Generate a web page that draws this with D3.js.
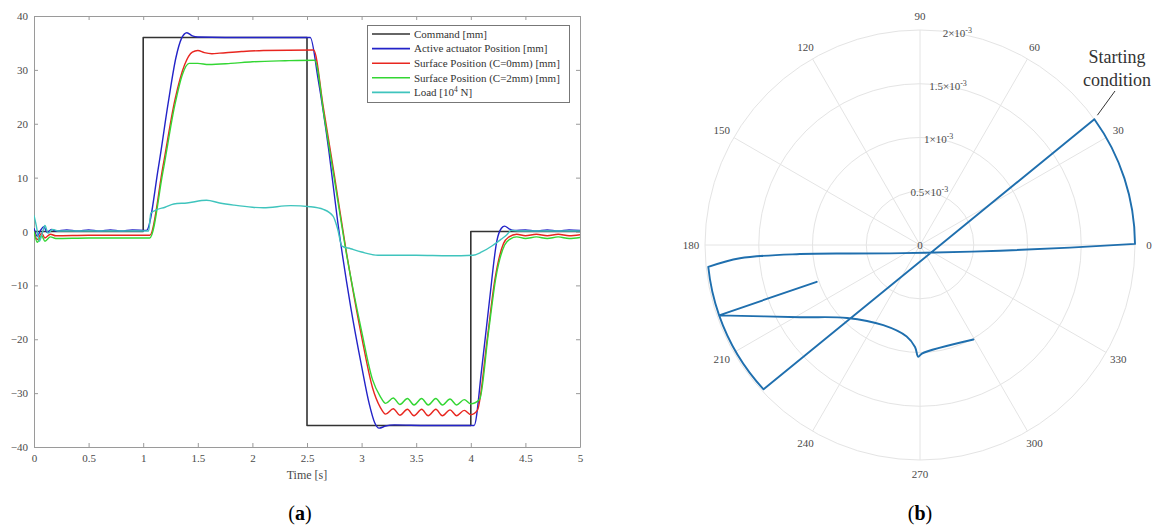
<!DOCTYPE html>
<html>
<head>
<meta charset="utf-8">
<script src="https://cdn.jsdelivr.net/npm/d3@7"></script>
<style>
  body { margin: 0; background: #fff; }
  svg { display: block; }
  .serif { font-family: "Liberation Serif", "DejaVu Serif", serif; }
</style>
</head>
<body>
<svg id="chart" width="1161" height="528"></svg>
<script>
// ---- panel (a): step response, time in s, values as in legend units ----
const timeTicks = [0, 0.5, 1, 1.5, 2, 2.5, 3, 3.5, 4, 4.5, 5];
const valueTicks = [-40, -30, -20, -10, 0, 10, 20, 30, 40];

const seriesNames = [
  "Command [mm]",
  "Active actuator Position [mm]",
  "Surface Position (C=0mm) [mm]",
  "Surface Position (C=2mm) [mm]",
  "Load [10|4| N]"
];
const seriesColors = ["#333333", "#2323c8", "#e8261f", "#33d633", "#3fc4bd"];

const command = [[0, 0], [1, 0], [1, 36], [2.5, 36], [2.5, -36], [4, -36], [4, 0], [5, 0]];

const actuator = [
  [0, 0.6], [0.03, -0.9], [0.06, 0.2], [0.09, 0.9], [0.12, -0.2], [0.16, 0.4], [0.2, 0.1],
  [0.3, 0.3], [0.4, 0.1], [0.5, 0.3], [0.6, 0.1], [0.7, 0.3], [0.8, 0.1], [0.9, 0.3], [1.03, 0.2],
  [1.14, 12], [1.23, 24], [1.3, 32.3], [1.35, 35.8], [1.4, 36.9], [1.45, 36.3], [1.5, 36.1],
  [2.0, 36], [2.53, 36], [2.6, 28.5], [2.7, 15], [2.78, 2], [2.9, -14], [3.0, -25],
  [3.07, -32], [3.12, -35.5], [3.16, -36.5], [3.22, -36.1], [3.3, -35.9], [3.6, -36], [4.03, -36],
  [4.1, -25.5], [4.17, -13], [4.24, -1.6], [4.28, 0.6], [4.31, 1.0], [4.35, 0.5], [4.4, 0.2],
  [4.5, 0.3], [4.6, 0.1], [4.7, 0.3], [4.8, 0.1], [4.9, 0.3], [5, 0.2]
];

const surfaceC0 = [
  [0, 0], [0.03, -1.5], [0.07, -0.3], [0.1, -1.2], [0.15, -0.5], [0.2, -0.8],
  [0.5, -0.7], [1.06, -0.7], [1.18, 12], [1.29, 24.4], [1.38, 31], [1.45, 33.3], [1.5, 33.6],
  [1.56, 33.2], [1.63, 33], [1.7, 33.1], [1.9, 33.4], [2.1, 33.6], [2.56, 33.7],
  [2.65, 23], [2.75, 10.5], [2.85, -2.5], [3.0, -19.5], [3.1, -29], [3.17, -32.6], [3.22, -33.9],
  [3.29, -32.9], [3.35, -34.1], [3.42, -33.0], [3.48, -34.2], [3.55, -33.0], [3.61, -34.2],
  [3.68, -33.0], [3.74, -34.2], [3.81, -33.1], [3.87, -34.2], [3.94, -33.2], [4.0, -34.0], [4.06, -33.2],
  [4.15, -20], [4.22, -9], [4.3, -2.2], [4.35, -1.0], [4.42, -0.5], [4.5, -0.8], [4.6, -0.5],
  [4.7, -0.8], [4.8, -0.5], [4.9, -0.8], [5, -0.6]
];

const surfaceC2 = [
  [0, 0], [0.03, -2.0], [0.07, -0.8], [0.1, -1.8], [0.15, -1.0], [0.2, -1.3],
  [0.5, -1.2], [1.06, -1.2], [1.18, 11], [1.29, 23.5], [1.36, 29.2], [1.42, 31.2], [1.5, 31.2],
  [1.6, 31.0], [1.8, 31.2], [2.0, 31.5], [2.3, 31.7], [2.57, 31.8],
  [2.66, 21], [2.76, 8.5], [2.86, -4], [3.0, -18.5], [3.1, -27.5], [3.17, -30.6], [3.22, -31.9],
  [3.29, -30.9], [3.35, -32.1], [3.42, -31.0], [3.48, -32.2], [3.55, -31.0], [3.61, -32.2],
  [3.68, -31.0], [3.74, -32.2], [3.81, -31.1], [3.87, -32.2], [3.94, -31.2], [4.0, -32.0], [4.08, -31.2],
  [4.16, -19], [4.23, -8.5], [4.31, -2.5], [4.36, -1.4], [4.42, -1.0], [4.5, -1.3], [4.6, -1.0],
  [4.7, -1.3], [4.8, -1.0], [4.9, -1.3], [5, -1.1]
];

const load = [
  [0, 3], [0.02, 1.2], [0.05, -1.8], [0.08, 0], [0.1, 1.1], [0.13, -0.3], [0.17, 0.4], [0.22, 0.1],
  [0.5, 0.1], [1.05, 0.1], [1.07, 3.4], [1.12, 4.0], [1.2, 4.5], [1.28, 5.1], [1.4, 5.3],
  [1.58, 5.8], [1.7, 5.3], [1.83, 4.9], [2.0, 4.5], [2.1, 4.4], [2.35, 4.8], [2.53, 4.6],
  [2.65, 4.1], [2.74, 2.8], [2.78, 0.5], [2.82, -2.7], [2.9, -3.2], [3.0, -3.8], [3.15, -4.4],
  [3.5, -4.4], [3.8, -4.5], [4.02, -4.4], [4.1, -3.8], [4.2, -2.6], [4.28, -1.4], [4.33, -0.6],
  [4.37, 0.2], [4.45, 0.1], [5, 0.1]
];

const seriesData = [command, actuator, surfaceC0, surfaceC2, load];

// ---- panel (b): polar trajectory, angle in degrees, radius ----
const angleTicks = [0, 30, 60, 90, 120, 150, 180, 210, 240, 270, 300, 330];
const radiusTicks = [0, 0.0005, 0.001, 0.0015, 0.002];
const radiusLabels = ["0", "0.5×10|-3|", "1×10|-3|", "1.5×10|-3|", "2×10|-3|"];

// points read along the trajectory; consecutive points on the same outer radius follow the ring
const trajAngle = [
  199.6, 199.3, 185.9,
  184.2, 184.3, 186.9, 195.5, 303, 355.9, 359, 0.3,
  35.8,
  222.7,
  199.3,
  211.1, 225, 245.4, 261.7, 267.2, 269.1, 271, 299.5
];
const trajRadius = [
  0.00102, 0.00198, 0.00198,
  0.00168, 0.00112, 0.000656, 0.00029, 0.000086, 0.000746, 0.001395, 0.002,
  0.002,
  0.00198,
  0.00198,
  0.0013, 0.00096, 0.00082, 0.00086, 0.00095, 0.00104, 0.00101, 0.00101
];

const svg = d3.select("#chart");

// helper: text with "|sup|" marks for superscripts
function richText(sel, str, supSize) {
  const parts = str.split("|");
  parts.forEach((p, i) => {
    if (!p) return;
    const t = sel.append("tspan").text(p);
    if (i % 2 === 1) {
      t.attr("baseline-shift", "super").style("font-size", supSize);
    }
  });
}

// =================== panel (a) ===================
const plotA = { left: 34, right: 580, top: 16, bottom: 447 };

const x = d3.scaleLinear().domain([0, 5]).range([plotA.left, plotA.right]);
const y = d3.scaleLinear().domain([-40, 40]).range([plotA.bottom, plotA.top]);

const gA = svg.append("g").attr("class", "serif");

const axisColor = "#9a9a9a";

const bottomAxis = gA.append("g")
  .attr("transform", `translate(0,${plotA.bottom})`)
  .call(d3.axisBottom(x).tickValues(timeTicks).tickSizeInner(-4).tickSizeOuter(0).tickPadding(7)
    .tickFormat(d3.format("")));
const leftAxis = gA.append("g")
  .attr("transform", `translate(${plotA.left},0)`)
  .call(d3.axisLeft(y).tickValues(valueTicks).tickSizeInner(-4).tickSizeOuter(0).tickPadding(6));
const topAxis = gA.append("g")
  .attr("transform", `translate(0,${plotA.top})`)
  .call(d3.axisTop(x).tickValues(timeTicks).tickSizeInner(-4).tickSizeOuter(0).tickFormat(""));
const rightAxis = gA.append("g")
  .attr("transform", `translate(${plotA.right},0)`)
  .call(d3.axisRight(y).tickValues(valueTicks).tickSizeInner(-4).tickSizeOuter(0).tickFormat(""));

[bottomAxis, leftAxis, topAxis, rightAxis].forEach(a => {
  a.select(".domain").attr("stroke", axisColor);
  a.selectAll(".tick line").attr("stroke", axisColor);
  a.selectAll("text")
    .attr("fill", "#4a4a4a")
    .style("font-family", "'Liberation Serif', serif")
    .style("font-size", "11px");
});

gA.append("text")
  .attr("x", (plotA.left + plotA.right) / 2)
  .attr("y", 479)
  .attr("text-anchor", "middle")
  .attr("fill", "#4a4a4a")
  .style("font-size", "12px")
  .text("Time [s]");

gA.append("clipPath").attr("id", "clipA")
  .append("rect")
  .attr("x", plotA.left).attr("y", plotA.top)
  .attr("width", plotA.right - plotA.left).attr("height", plotA.bottom - plotA.top);

const stepLine = d3.line().x(d => x(d[0])).y(d => y(d[1]));
const smoothLine = d3.line().x(d => x(d[0])).y(d => y(d[1])).curve(d3.curveMonotoneX);

gA.append("g").attr("clip-path", "url(#clipA)")
  .selectAll("path")
  .data(seriesData)
  .join("path")
  .attr("d", (d, i) => i === 0 ? stepLine(d) : smoothLine(d))
  .attr("fill", "none")
  .attr("stroke", (d, i) => seriesColors[i])
  .attr("stroke-width", (d, i) => i === 0 ? 1.6 : 1.4)
  .attr("stroke-linejoin", "round");

// legend
const legend = gA.append("g");
legend.append("rect")
  .attr("x", 367.5).attr("y", 25.5)
  .attr("width", 202).attr("height", 77)
  .attr("fill", "#fff")
  .attr("stroke", "#777");

const legendRows = legend.selectAll("g.row")
  .data(seriesNames)
  .join("g")
  .attr("class", "row")
  .attr("transform", (d, i) => `translate(0,${34 + i * 14.6})`);

legendRows.append("line")
  .attr("x1", 372).attr("x2", 410)
  .attr("stroke", (d, i) => seriesColors[i])
  .attr("stroke-width", 1.6);

legendRows.append("text")
  .attr("x", 414)
  .attr("dy", "0.35em")
  .attr("fill", "#333")
  .style("font-size", "11px")
  .each(function (d) { richText(d3.select(this), d, "7.5px"); });

// caption (a)
svg.append("text")
  .attr("x", 300).attr("y", 520)
  .attr("text-anchor", "middle")
  .style("font-family", "'Liberation Serif', serif")
  .style("font-size", "20px")
  .html('(<tspan font-weight="bold">a</tspan>)');

// =================== panel (b) ===================
const cx = 920, cy = 245, R = 215;
const r = d3.scaleLinear().domain([0, 0.002]).range([0, R]);
const toRad = deg => deg * Math.PI / 180;

const gB = svg.append("g").attr("class", "serif")
  .attr("transform", `translate(${cx},${cy})`);

const gridColor = "#e4e4e4";

gB.selectAll("circle.ring")
  .data(radiusTicks.slice(1))
  .join("circle")
  .attr("class", "ring")
  .attr("r", d => r(d))
  .attr("fill", "none")
  .attr("stroke", gridColor)
  .attr("stroke-width", 1);

gB.selectAll("line.spoke")
  .data(angleTicks)
  .join("line")
  .attr("class", "spoke")
  .attr("x1", 0).attr("y1", 0)
  .attr("x2", d => R * Math.cos(toRad(d)))
  .attr("y2", d => -R * Math.sin(toRad(d)))
  .attr("stroke", gridColor)
  .attr("stroke-width", 1);

gB.selectAll("text.angle")
  .data(angleTicks)
  .join("text")
  .attr("class", "angle")
  .attr("x", d => 229 * Math.cos(toRad(d)))
  .attr("y", d => -229 * Math.sin(toRad(d)))
  .attr("text-anchor", "middle")
  .attr("dy", "0.35em")
  .attr("fill", "#4a4a4a")
  .style("font-size", "11px")
  .text(d => d);

gB.selectAll("text.rlabel")
  .data(radiusTicks)
  .join("text")
  .attr("class", "rlabel")
  .attr("x", d => r(d) * Math.cos(toRad(80)))
  .attr("y", d => -r(d) * Math.sin(toRad(80)))
  .attr("text-anchor", "middle")
  .attr("dy", "0.35em")
  .attr("fill", "#4a4a4a")
  .style("font-size", "11px")
  .each(function (d, i) { richText(d3.select(this), radiusLabels[i], "8px"); });

// trajectory: runs of points joined by a smooth line, ring sections drawn as arcs
const traj = trajAngle.map((a, i) => [a, trajRadius[i]]);
const polarXY = d => [r(d[1]) * Math.cos(toRad(d[0])), -r(d[1]) * Math.sin(toRad(d[0]))];
const onRing = (p, q) => Math.abs(p[1] - q[1]) < 1e-5 && p[1] > 0.0019 && Math.abs(p[0] - q[0]) < 90;

const trajPath = d3.path();
const runLine = d3.line().curve(d3.curveCatmullRom.alpha(0.5)).context(trajPath);
let run = [traj[0]];
for (let i = 1; i < traj.length; i++) {
  const p = traj[i - 1], q = traj[i];
  if (onRing(p, q)) {
    if (run.length > 1) runLine(run.map(polarXY));
    const [px, py] = polarXY(p);
    trajPath.moveTo(px, py);
    trajPath.arc(0, 0, r(p[1]), -toRad(p[0]), -toRad(q[0]), q[0] > p[0]);
    run = [q];
  } else {
    run.push(q);
  }
}
if (run.length > 1) runLine(run.map(polarXY));

gB.append("path")
  .attr("d", trajPath.toString())
  .attr("fill", "none")
  .attr("stroke", "#1f6fae")
  .attr("stroke-width", 1.9)
  .attr("stroke-linejoin", "round")
  .attr("stroke-linecap", "round");

// annotation
const [sx, sy] = polarXY(traj[11]);
gB.append("line")
  .attr("x1", sx + 3).attr("y1", sy - 4)
  .attr("x2", 195).attr("y2", -154)
  .attr("stroke", "#333")
  .attr("stroke-width", 1);

const note = gB.append("text")
  .attr("text-anchor", "middle")
  .attr("fill", "#333")
  .style("font-size", "18px");
note.append("tspan").attr("x", 197).attr("y", -182).text("Starting");
note.append("tspan").attr("x", 197).attr("y", -159).text("condition");

// caption (b)
svg.append("text")
  .attr("x", 920).attr("y", 520)
  .attr("text-anchor", "middle")
  .style("font-family", "'Liberation Serif', serif")
  .style("font-size", "20px")
  .html('(<tspan font-weight="bold">b</tspan>)');
</script>
</body>
</html>
